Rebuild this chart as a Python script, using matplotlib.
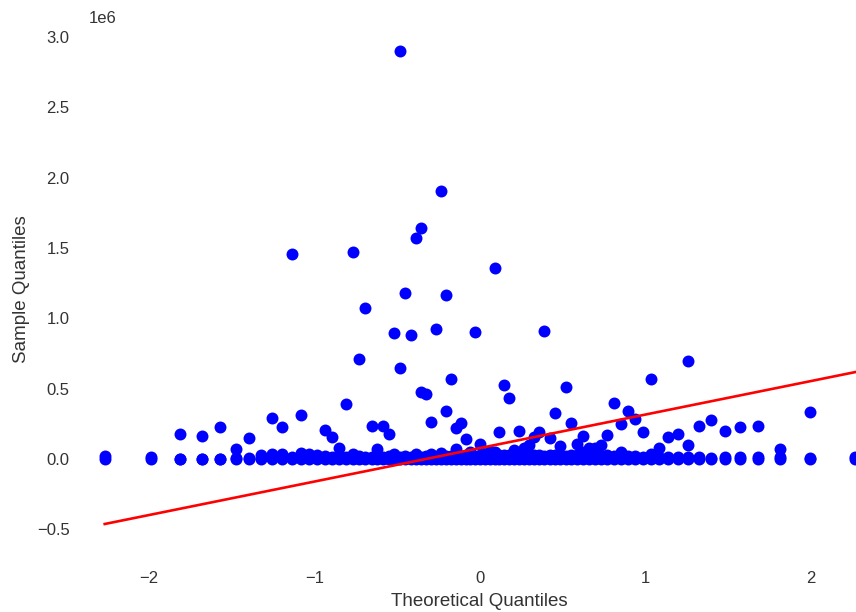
import numpy as np
import matplotlib
matplotlib.use("Agg")
import matplotlib.pyplot as plt

# Theoretical quantiles (85 sample positions)
x_quantiles = [
    -2.268, -1.991, -1.813, -1.680, -1.571, -1.477, -1.395, -1.322, -1.255, -1.194,
    -1.137, -1.083, -1.032, -0.983, -0.937, -0.893, -0.850, -0.809, -0.769, -0.731,
    -0.693, -0.656, -0.620, -0.585, -0.551, -0.518, -0.485, -0.452, -0.420, -0.389,
    -0.358, -0.327, -0.297, -0.266, -0.237, -0.207, -0.177, -0.147, -0.117, -0.088,
    -0.058, -0.029, 0.000, 0.029, 0.058, 0.088, 0.117, 0.147, 0.177, 0.207,
    0.237, 0.266, 0.297, 0.327, 0.358, 0.389, 0.420, 0.452, 0.485, 0.518,
    0.551, 0.585, 0.620, 0.656, 0.693, 0.731, 0.769, 0.809, 0.850, 0.893,
    0.937, 0.983, 1.032, 1.083, 1.137, 1.194, 1.255, 1.322, 1.395, 1.477,
    1.571, 1.680, 1.813, 1.991, 2.268,
]

# Sample values (in millions) of the series lying on the zero band
base_values = [
    0.0, 0.0, 0.0, 0.0, 0.0, 0.0, 0.0, 0.0, 0.0, 0.0,
    0.0, 0.0, 0.0, 0.0, 0.0, 0.0, 0.0, 0.0, 0.0, 0.0,
    0.0, 0.0, 0.0, 0.0, 0.0, 0.0, 0.0, 0.0, 0.0, 0.0,
    0.0, 0.0, 0.0, 0.0, 0.0, 0.0, 0.0, 0.0, 0.0, 0.0,
    0.0, 0.0, 0.0, 0.0, 0.0, 0.0, 0.0, 0.0, 0.0, 0.0,
    0.0, 0.0, 0.0, 0.0, 0.0, 0.0, 0.0, 0.0, 0.0, 0.0,
    0.0, 0.0, 0.0, 0.0, 0.0, 0.0, 0.0, 0.0, 0.0, 0.0,
    0.0, 0.0, 0.0, 0.0, 0.0, 0.0, 0.0, 0.0, 0.0, 0.0,
    0.0, 0.0, 0.0, 0.0, 0.0,
]
low_values = [
    0.020, 0.018, 0.004, 0.004, 0.004, 0.006, 0.008, 0.010, 0.012, 0.015,
    0.012, 0.018, 0.014, 0.016, 0.020, 0.015, 0.022, 0.018, 0.016, 0.020,
    0.014, 0.018, 0.022, 0.016, 0.020, 0.018, 0.015, 0.020, 0.018, 0.022,
    0.016, 0.020, 0.024, 0.018, 0.022, 0.020, 0.025, 0.018, 0.022, 0.026,
    0.020, 0.024, 0.030, 0.022, 0.028, 0.024, 0.030, 0.026, 0.030, 0.024,
    0.028, 0.030, 0.026, 0.032, 0.028, 0.024, 0.030, 0.026, 0.030, 0.024,
    0.028, 0.030, 0.026, 0.030, 0.028, 0.024, 0.026, 0.022, 0.024, 0.020,
    0.022, 0.018, 0.020, 0.016, 0.018, 0.014, 0.016, 0.012, 0.010, 0.012,
    0.014, 0.016, 0.014, 0.006, 0.012,
]

# Scattered sample values (theoretical quantile, sample value in millions)
extra_x = [
    -0.485, -0.237, -0.358, -0.389, -1.137, -0.769, 0.088, -0.452, -0.207, -0.693,
    -0.518, -0.420, -0.266, -0.029, 0.389, -0.731, -0.485, -0.177, 0.147, 0.177,
    -0.358, -0.327, -0.809, -0.207, -0.297, 0.452, -0.147, -0.117, -0.088, -0.937,
    -0.893, -0.850, -0.656, -0.585, -0.551, -0.620, -0.147, 0.000, 0.117, 0.237,
    0.358, 0.420, 0.518, 1.032, 1.255, 0.809, 0.893, 0.937, 0.850, 0.551,
    0.983, 0.769, 0.620, 0.585, 0.656, 0.693, 0.731, 0.485, 1.083, 1.137,
    1.194, 1.255, 1.322, 1.395, 1.477, 1.571, 1.680, 1.813, 1.991, -1.813,
    -1.680, -1.571, -1.477, -1.395, -1.255, -1.194, -1.083,
    -1.322, -1.194, -1.083, -1.032, -0.983, -0.769, -0.518, -0.389, -0.297, -0.237,
    0.207, 0.266, 0.297, 0.327, 0.058, 0.029, 0.088, -0.058, 0.620, 0.850,
    1.032, -1.255,
]
extra_y = [
    2.900, 1.905, 1.642, 1.569, 1.457, 1.469, 1.357, 1.182, 1.170, 1.071,
    0.898, 0.884, 0.922, 0.907, 0.910, 0.709, 0.647, 0.573, 0.526, 0.436,
    0.478, 0.460, 0.389, 0.339, 0.263, 0.325, 0.218, 0.254, 0.142, 0.206,
    0.154, 0.076, 0.237, 0.237, 0.178, 0.071, 0.071, 0.107, 0.190, 0.201,
    0.194, 0.149, 0.510, 0.573, 0.697, 0.400, 0.341, 0.287, 0.249, 0.254,
    0.190, 0.175, 0.166, 0.110, 0.080, 0.080, 0.100, 0.095, 0.080, 0.154,
    0.178, 0.100, 0.237, 0.275, 0.199, 0.227, 0.237, 0.071, 0.336, 0.178,
    0.163, 0.225, 0.071, 0.147, 0.289, 0.225, 0.313,
    0.028, 0.035, 0.045, 0.035, 0.030, 0.035, 0.035, 0.040, 0.040, 0.045,
    0.064, 0.076, 0.100, 0.160, 0.060, 0.040, 0.050, 0.050, 0.050, 0.050,
    0.040, 0.040,
]

# Reference line (sample value in millions at the extreme quantiles)
line_x = [-2.268, 2.268]
line_y = [-0.461, 0.619]

SCALE = 1e6

plt.rcParams['font.family'] = ['Liberation Sans', 'DejaVu Sans']

W, H = 856, 612
fig = plt.figure(figsize=(W / 100, H / 100), dpi=100)
# the axes runs a little past the right edge of the figure, as in the reference
ax = fig.add_axes([89 / W, (H - 552) / H, (870 - 89) / W, 524.8 / H])
ax.set_facecolor('white')

mk = dict(linestyle='none', marker='o', color='#0000ff', markersize=8.6,
          markeredgewidth=0)
ax.plot(x_quantiles, np.asarray(base_values) * SCALE, **mk)
ax.plot(x_quantiles, np.asarray(low_values) * SCALE, **mk)
ax.plot(extra_x, np.asarray(extra_y) * SCALE, **mk)
ax.plot(line_x, np.asarray(line_y) * SCALE, color='#ff0000', linewidth=1.9)

ax.set_xlim(-2.363, 2.356)
ax.set_ylim(-0.66e6, 3.07e6)
ax.set_xticks([-2, -1, 0, 1, 2])
ax.set_yticks([-0.5e6, 0, 0.5e6, 1.0e6, 1.5e6, 2.0e6, 2.5e6, 3.0e6])

for s in ax.spines.values():
    s.set_visible(False)
ax.tick_params(axis='both', length=0, labelsize=12, labelcolor='#333333')
ax.tick_params(axis='y', pad=14)
ax.tick_params(axis='x', pad=14)
ax.yaxis.get_offset_text().set_fontsize(12)
ax.yaxis.get_offset_text().set_color('#333333')

ax.set_xlabel('Theoretical Quantiles', fontsize=13.5, color='#333333', labelpad=5)
ax.set_ylabel('Sample Quantiles', fontsize=13.5, color='#333333', labelpad=5)

fig.savefig('out.png', dpi=100, facecolor='white')
